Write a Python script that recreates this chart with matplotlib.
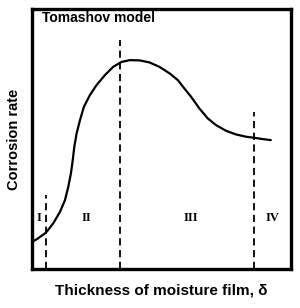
import matplotlib
matplotlib.use("Agg")
import matplotlib.pyplot as plt

plt.rcParams['font.family'] = ['Liberation Sans', 'DejaVu Sans']

# moisture film thickness (arbitrary units) vs corrosion rate
thickness = [0, 1.8, 5.4, 8.2, 10.8, 12.7, 14.0, 15.0, 15.7, 16.3, 17.2, 18.5,
             20.0, 22.3, 24.9, 28.1, 31.3, 34.5, 37.7, 41.5, 45.4, 49.2,
             53.1, 56.3, 58.8, 61.4, 64.6, 67.8, 71.0, 74.9, 78.7, 82.6,
             85.8, 89.0, 92.2]
rate = [10.5, 11.4, 14.0, 17.6, 22.0, 26.5, 31.7, 36.8, 41.9, 47.0, 52.2, 57.3,
        62.4, 66.9, 70.8, 74.6, 77.8, 79.7, 80.4, 80.3, 79.5, 77.8,
        75.3, 72.7, 69.5, 66.3, 61.8, 58.0, 55.4, 53.2, 51.8, 50.9,
        50.5, 50.0, 49.6]

# region boundaries and how high each dashed line goes
bounds = [5.4, 33.8, 85.8]
bound_tops = [28.5, 88, 60.4]
regions = ['I', 'II', 'III', 'IV']
region_x = [2.8, 21, 61.4, 92.8]
region_y = 19.6

fig = plt.figure(figsize=(3.0, 3.08), dpi=100)
ax = fig.add_axes([0.107, 0.127, 0.863, 0.843])

ax.plot(thickness, rate, color='black', lw=1.6, solid_capstyle='round',
        solid_joinstyle='round')
for b, t in zip(bounds, bound_tops):
    ax.plot([b, b], [0, t], color='black', lw=1.3, ls=(0, (4, 2.5)))
for r, x in zip(regions, region_x):
    ax.text(x, region_y, r, family='Liberation Serif', fontsize=9,
            fontweight='bold', ha='center', va='center')

ax.text(0.04, 0.965, 'Tomashov model', transform=ax.transAxes,
        fontsize=10, fontweight='bold', ha='left', va='center')

ax.set_xlim(0, 100)
ax.set_ylim(0, 100)
ax.set_xticks([])
ax.set_yticks([])
for s in ax.spines.values():
    s.set_linewidth(2.4)

ax.set_xlabel('Thickness of moisture film, δ', fontsize=11,
              fontweight='bold', labelpad=10.5)
ax.set_ylabel('Corrosion rate', fontsize=10.5, fontweight='bold', labelpad=8)

fig.savefig('out.png', dpi=100)
